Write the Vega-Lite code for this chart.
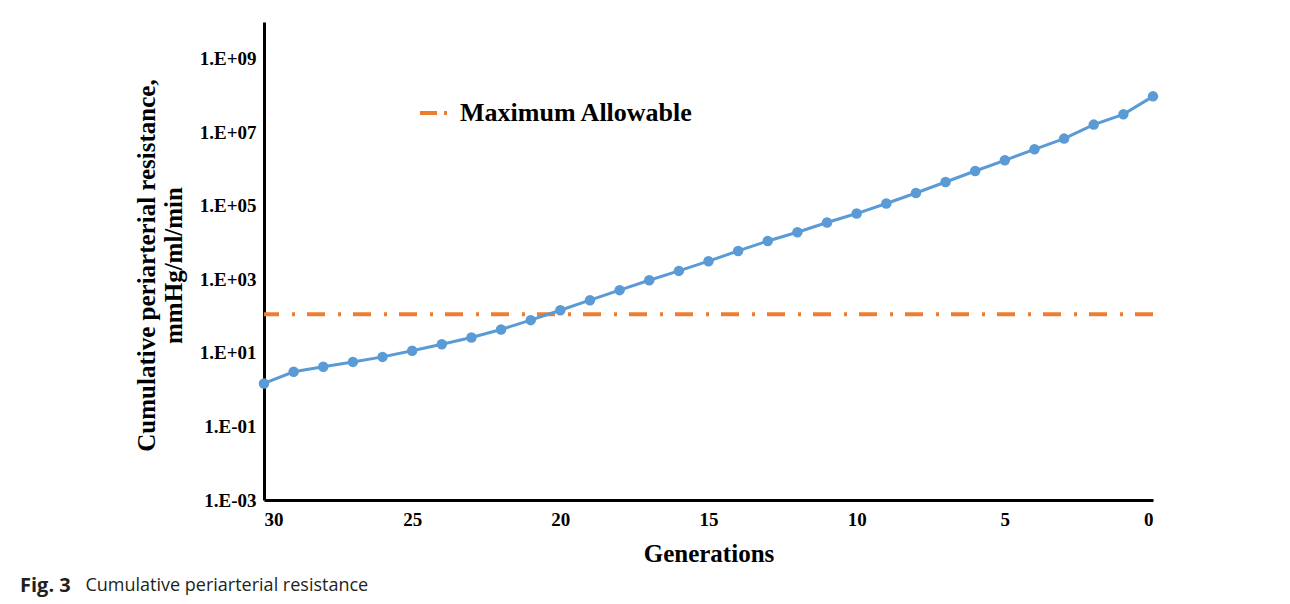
{
  "$schema": "https://vega.github.io/schema/vega-lite/v6.json",
  "width": 889,
  "height": 478,
  "autosize": {"type": "none"},
  "padding": {"left": 264, "top": 22, "right": 137, "bottom": 104},
  "background": "white",
  "title": {
    "text": "Fig. 3",
    "subtitle": "\u200b\u00a0\u00a0\u00a0\u00a0\u00a0\u00a0\u00a0\u00a0\u00a0\u00a0\u00a0\u00a0\u00a0\u00a0Cumulative periarterial resistance",
    "orient": "bottom",
    "anchor": "start",
    "frame": "group",
    "dx": -244,
    "offset": 10,
    "font": "Open Sans",
    "fontSize": 20,
    "fontWeight": "bold",
    "color": "#231f20",
    "subtitleFont": "Open Sans",
    "subtitleFontSize": 18,
    "subtitleFontWeight": "normal",
    "subtitleColor": "#231f20",
    "subtitlePadding": -19
  },
  "config": {
    "view": {"stroke": null},
    "axis": {
      "domainColor": "black",
      "domainWidth": 3,
      "ticks": false,
      "grid": false,
      "labelFont": "Liberation Serif",
      "labelFontWeight": "bold",
      "labelFontSize": 19,
      "labelColor": "black",
      "titleFont": "Liberation Serif",
      "titleFontWeight": "bold",
      "titleColor": "black"
    }
  },
  "datasets": {
    "series": [
      {"generation": 30, "resistance": 1.48},
      {"generation": 29, "resistance": 3.07},
      {"generation": 28, "resistance": 4.2},
      {"generation": 27, "resistance": 5.7},
      {"generation": 26, "resistance": 7.8},
      {"generation": 25, "resistance": 11.4},
      {"generation": 24, "resistance": 17.3},
      {"generation": 23, "resistance": 26.3},
      {"generation": 22, "resistance": 43.4},
      {"generation": 21, "resistance": 77.8},
      {"generation": 20, "resistance": 145},
      {"generation": 19, "resistance": 272},
      {"generation": 18, "resistance": 510},
      {"generation": 17, "resistance": 950},
      {"generation": 16, "resistance": 1700},
      {"generation": 15, "resistance": 3125},
      {"generation": 14, "resistance": 5940},
      {"generation": 13, "resistance": 11100},
      {"generation": 12, "resistance": 19200},
      {"generation": 11, "resistance": 35200},
      {"generation": 10, "resistance": 61700},
      {"generation": 9, "resistance": 115600},
      {"generation": 8, "resistance": 224000},
      {"generation": 7, "resistance": 446000},
      {"generation": 6, "resistance": 888000},
      {"generation": 5, "resistance": 1730000},
      {"generation": 4, "resistance": 3450000},
      {"generation": 3, "resistance": 6740000},
      {"generation": 2, "resistance": 16200000},
      {"generation": 1, "resistance": 30800000},
      {"generation": 0, "resistance": 95000000}
    ],
    "limit": [{"label": "Maximum Allowable", "resistance": 112}]
  },
  "layer": [
    {
      "data": {"name": "limit"},
      "mark": {"type": "rule", "strokeWidth": 4, "strokeDash": [18, 12, 3, 13]},
      "encoding": {
        "y": {
          "field": "resistance",
          "type": "quantitative",
          "scale": {"type": "log", "domain": [0.001, 10000000000], "nice": false},
          "axis": {
            "values": [0.001, 0.1, 10, 1000, 100000, 10000000, 1000000000],
            "labelExpr": "'1.E' + (datum.value < 1 ? '-' : '+') + (abs(round(log(datum.value)/LN10)) < 10 ? '0' : '') + abs(round(log(datum.value)/LN10))",
            "labelPadding": 8,
            "title": ["Cumulative periarterial resistance,", "mmHg/ml/min"],
            "titleFontSize": 25,
            "titleLineHeight": 27,
            "titleAngle": -90,
            "titleAlign": "center",
            "titleBaseline": "middle",
            "titleX": -118,
            "titleY": 243
          }
        },
        "color": {
          "field": "label",
          "type": "nominal",
          "scale": {"range": ["#ED7D31"]},
          "legend": {
            "title": null,
            "orient": "none",
            "legendX": 154,
            "legendY": 75,
            "padding": 0,
            "symbolType": "stroke",
            "symbolSize": 784,
            "symbolStrokeWidth": 4,
            "symbolDash": [17, 7, 3, 7],
            "labelFont": "Liberation Serif",
            "labelFontWeight": "bold",
            "labelFontSize": 26,
            "labelColor": "black",
            "labelOffset": 10,
            "labelLimit": 500
          }
        }
      }
    },
    {
      "data": {"name": "series"},
      "mark": {
        "type": "line",
        "color": "#5B9BD5",
        "strokeWidth": 3,
        "point": {"size": 110, "filled": true, "color": "#5B9BD5", "opacity": 1}
      },
      "encoding": {
        "x": {
          "field": "generation",
          "type": "quantitative",
          "scale": {"domain": [0, 30], "reverse": true, "nice": false, "zero": false},
          "axis": {
            "values": [30, 25, 20, 15, 10, 5, 0],
            "labelPadding": 10,
            "title": "Generations",
            "titleFontSize": 25,
            "titlePadding": 12
          }
        },
        "y": {"field": "resistance", "type": "quantitative"}
      }
    }
  ]
}
